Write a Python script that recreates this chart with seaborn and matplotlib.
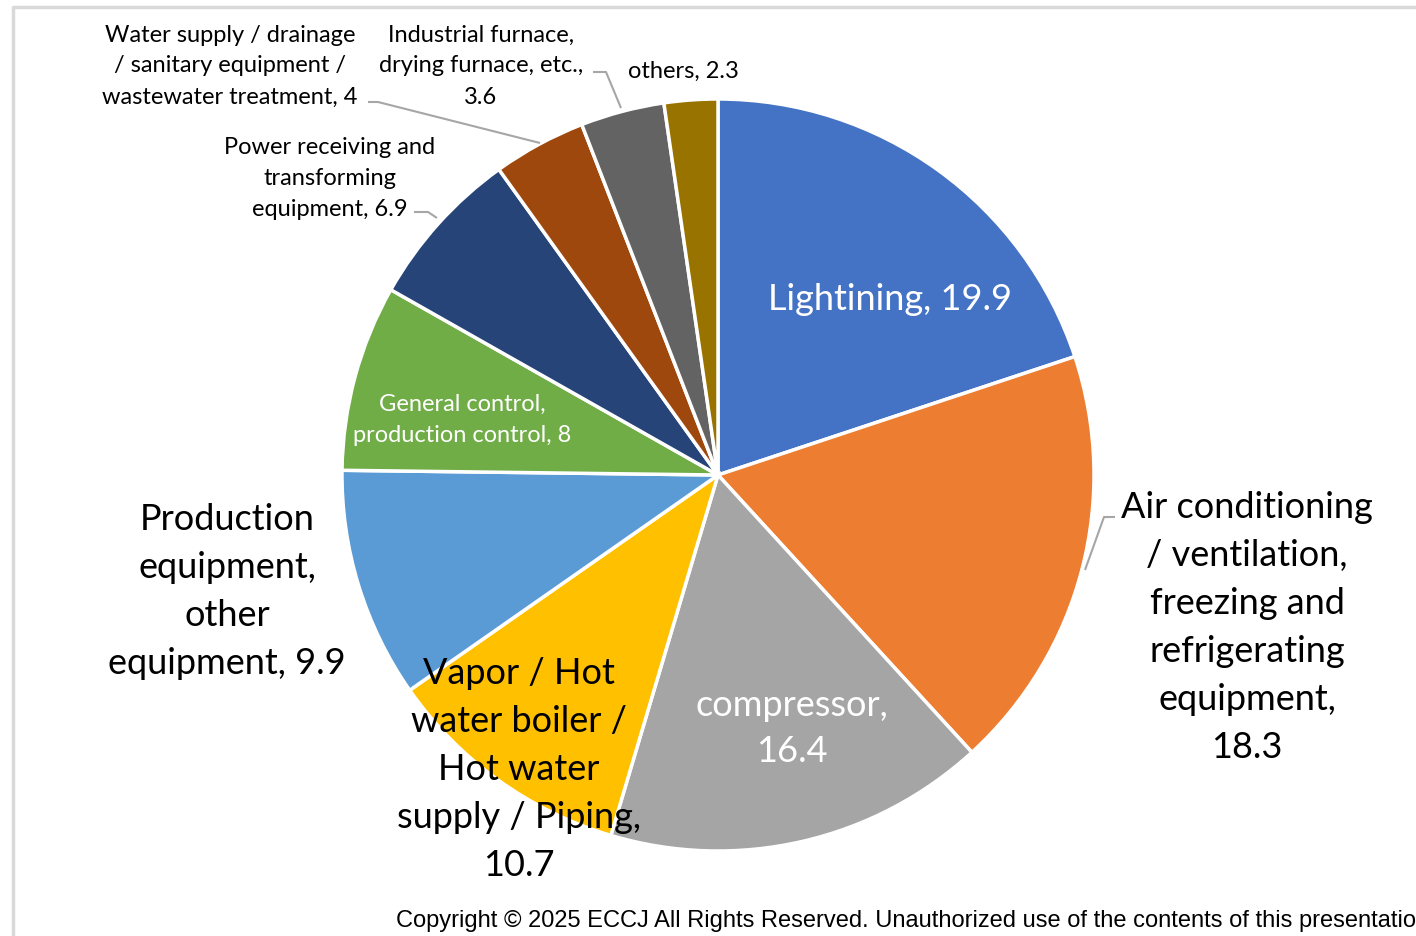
"""Pie chart of energy use by equipment type."""

import matplotlib
matplotlib.use('Agg')
import matplotlib.pyplot as plt
import seaborn as sns

categories = [
    'Lightining', 'Air conditioning / ventilation, freezing and refrigerating equipment',
    'compressor', 'Vapor / Hot water boiler / Hot water supply / Piping',
    'Production equipment, other equipment', 'General control, production control',
    'Power receiving and transforming equipment',
    'Water supply / drainage / sanitary equipment / wastewater treatment',
    'Industrial furnace, drying furnace, etc.', 'others',
]
values = [19.9, 18.3, 16.4, 10.7, 9.9, 8, 6.9, 4, 3.6, 2.3]
colors = ['#4472C4', '#ED7D31', '#A5A5A5', '#FFC000', '#5B9BD5',
          '#70AD47', '#264478', '#9E480E', '#636363', '#997300']

# label text as it is wrapped in the chart
label_lines = [
    ['Lightining, 19.9'],
    ['Air conditioning', '/ ventilation,', 'freezing and', 'refrigerating', 'equipment,', '18.3'],
    ['compressor,', '16.4'],
    ['Vapor / Hot', 'water boiler /', 'Hot water', 'supply / Piping,', '10.7'],
    ['Production', 'equipment,', 'other', 'equipment, 9.9'],
    ['General control,', 'production control, 8'],
    ['Power receiving and', 'transforming', 'equipment, 6.9'],
    ['Water supply / drainage', '/ sanitary equipment /', 'wastewater treatment, 4'],
    ['Industrial furnace,', 'drying furnace, etc.,', '3.6'],
    ['others, 2.3'],
]

W, H = 1416, 936
FONT = ['Lato', 'DejaVu Sans']

sns.set_theme(style='white')
plt.rcParams['font.family'] = FONT

fig = plt.figure(figsize=(W / 100, H / 100), dpi=100)
ax = fig.add_axes([0, 0, 1, 1])

cx, cy, r = 718, 475, 376
ax.pie(values, colors=colors, startangle=90, counterclock=False,
       center=(cx, H - cy), radius=r,
       wedgeprops=dict(edgecolor='white', linewidth=2.5))
ax.set_xlim(0, W)
ax.set_ylim(0, H)
ax.set_aspect('equal')
ax.axis('off')


def put(lines, x, y0, step, size, color='black'):
    for i, line in enumerate(lines):
        ax.text(x, H - (y0 + i * step), line, ha='center', va='center',
                fontsize=size, color=color, family=FONT)


big, small = 26, 17
put(label_lines[0], 890, 300, 48, big, 'white')
put(label_lines[1], 1247, 507, 48.2, big)
put(label_lines[2], 792, 706, 46, big, 'white')
put(label_lines[3], 519, 673, 48, big)
put(label_lines[4], 227, 519, 48.3, big)
put(label_lines[5], 462, 404, 31, small, 'white')
put(label_lines[6], 330, 147, 31.5, small)
put(label_lines[7], 230, 35, 31, small)
put(label_lines[8], 481, 35, 31, small)
put(label_lines[9], 683, 71, 31, small)

# leader lines
leaders = [
    [(1115, 517), (1104, 517), (1085, 570)],
    [(414, 212), (428, 212), (437, 218)],
    [(368, 102), (378, 102), (540, 143)],
    [(593, 72), (606, 72), (621, 108)],
]
for pts in leaders:
    ax.plot([p[0] for p in pts], [H - p[1] for p in pts],
            color='#A6A6A6', lw=1.5, solid_capstyle='butt')

# slide frame
ax.plot([13, 13, W], [0, H - 7, H - 7], color='#D9D9D9', lw=2.5)

ax.text(396, H - 921,
        'Copyright \u00a9 2025 ECCJ All Rights Reserved. Unauthorized use of the '
        'contents of this presentation is prohibited.',
        ha='left', va='center', fontsize=17, color='black',
        family=['Liberation Sans', 'DejaVu Sans'])

fig.savefig('out.png', dpi=100)
